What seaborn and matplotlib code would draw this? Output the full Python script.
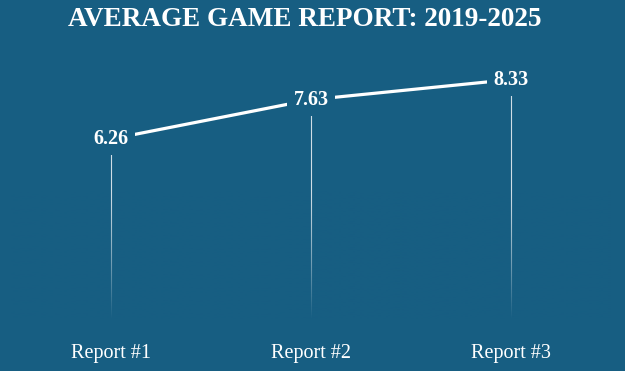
import numpy as np
import pandas as pd
import seaborn as sns
import matplotlib
matplotlib.use('Agg')
import matplotlib.pyplot as plt
from matplotlib.colors import to_rgb

BG = '#175e82'

reports = ['Report #1', 'Report #2', 'Report #3']
scores = [6.26, 7.63, 8.33]
title = 'AVERAGE GAME REPORT: 2019-2025'

if __name__ == "__main__":

    sns.set_theme(style='white')
    plt.rcParams['font.family'] = ['Liberation Serif', 'DejaVu Serif']

    df = pd.DataFrame(dict(report=reports, score=scores))
    xs = np.arange(len(reports))

    fig = plt.figure(figsize=(6.25, 3.71), dpi=100, facecolor=BG)
    ax = fig.add_axes([0.0176, 0.14, 0.96, 0.775])
    ax.set_facecolor(BG)

    # vertical drop lines
    ax.vlines(xs, 0, scores, color='white', linewidth=0.8, alpha=0.8,
              zorder=1)

    # fade the drop lines out toward the bottom with a background-coloured ramp
    ramp = np.zeros((100, 1, 4))
    ramp[:, 0, :3] = to_rgb(BG)
    ramp[:, 0, 3] = np.linspace(0.0, 1.0, 100) ** 1.2
    ax.imshow(ramp, extent=(-0.5, len(reports) - 0.5, 0, 4.5),
              origin='upper', aspect='auto', zorder=1.5)

    sns.lineplot(data=df, x='report', y='score', ax=ax, color='white',
                 linewidth=2.3, sort=False, zorder=2)

    for x, v in zip(xs, scores):
        ax.text(x, v, f'{v:.2f}', ha='center', va='center', color='white',
                fontsize=14.5, fontweight='bold', zorder=3,
                bbox=dict(boxstyle='square,pad=0.3', fc=BG, ec='none'))

    ax.set_xlim(-0.5, len(reports) - 0.5)
    ax.set_ylim(0, 10)
    ax.set_xticks(xs)
    ax.set_xticklabels(reports, color='white', fontsize=14.5)
    ax.tick_params(axis='x', length=0, pad=18)
    ax.set_yticks([])
    ax.set_xlabel('')
    ax.set_ylabel('')
    sns.despine(ax=ax, left=True, bottom=True)

    fig.text(0.488, 0.948, title, ha='center', va='center', color='white',
             fontsize=19.5, fontweight='bold')

    plt.savefig('out.png', dpi=100, facecolor=BG)
